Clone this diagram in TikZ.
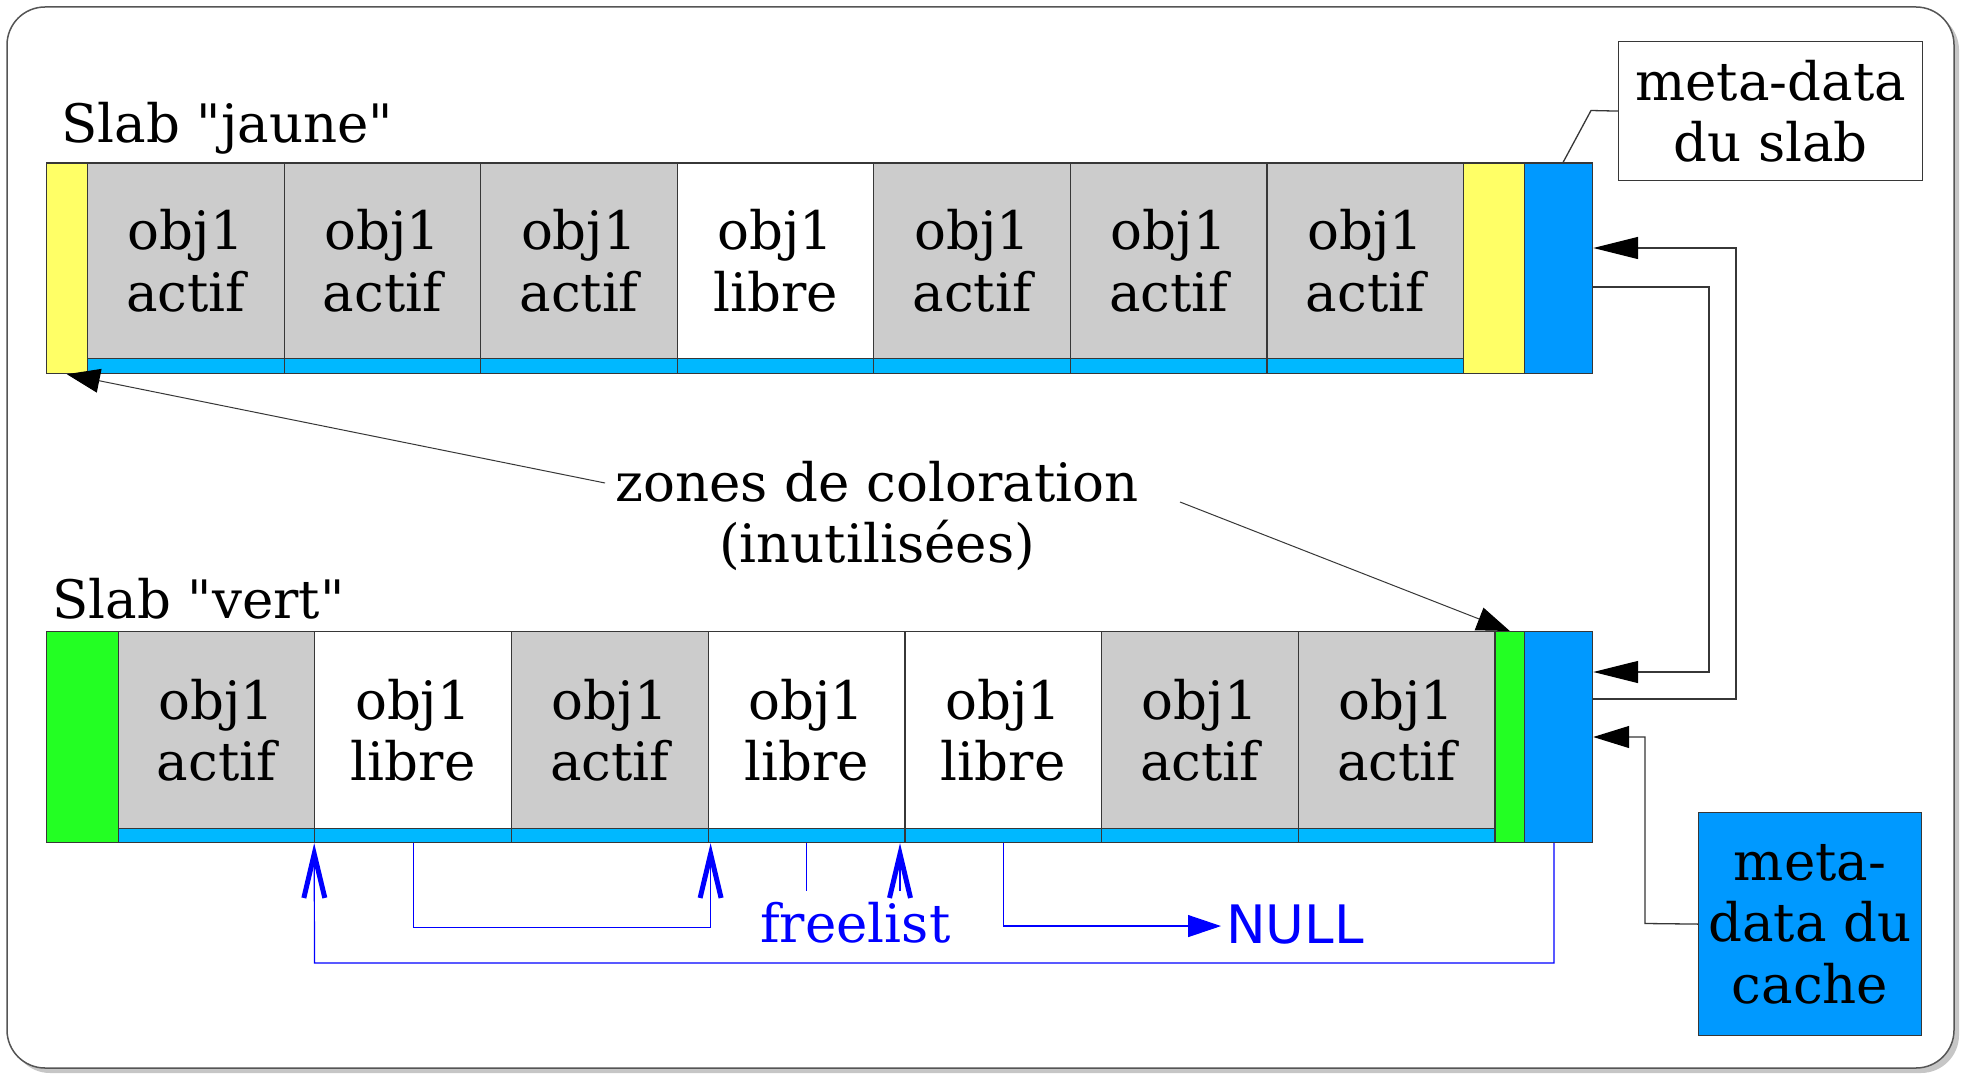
\documentclass[tikz,border=0pt]{standalone}
\usepackage{fontspec}
\setmainfont{DejaVu Serif}[Ligatures=TeXOff]
\newfontfamily\dvsans{DejaVu Sans}
\usetikzlibrary{arrows.meta,calc}
\definecolor{yel}{RGB}{255,255,102}
\definecolor{grc}{RGB}{204,204,204}
\definecolor{stripc}{RGB}{0,184,255}
\definecolor{mblue}{RGB}{0,153,255}
\definecolor{grn}{RGB}{35,255,35}
\definecolor{lnc}{RGB}{55,55,55}
\definecolor{fblue}{RGB}{0,0,255}
\begin{document}
\begin{tikzpicture}[x=1pt,y=-1pt,
  font=\fontsize{53}{61.5}\selectfont,
  plain/.style={draw=lnc, line width=1.2pt, inner sep=0pt, anchor=north west},
  objc/.style={plain, minimum height=#1, align=center},
  strp/.style={plain, fill=stripc},
  con/.style={draw=lnc, line width=1.3pt},
  fcon/.style={draw=fblue, line width=1.2pt},
  bigtri/.style={-{Triangle[length=45pt,width=22pt,color=black]}},
  smtri/.style={-{Triangle[length=33pt,width=24pt,color=black]}},
  barb/.style={-{Straight Barb[length=44pt,width=21pt,line width=5pt]}},
  lbl/.style={inner sep=0pt, anchor=base west}
]
\useasboundingbox (0,0) rectangle (1961,1075);
% frame with shadow
\fill[gray!45, rounded corners=38pt] (12,12) rectangle (1959,1073);
\draw[draw=lnc!85, fill=white, line width=1.5pt, rounded corners=38pt] (7,7) rectangle (1954,1068);

% ---- top slab ----
\node[lbl] (lj) at (61,143) {Slab "jaune"};
\foreach \i/\st/\c in {1/actif/grc,2/actif/grc,3/actif/grc,4/libre/white,5/actif/grc,6/actif/grc,7/actif/grc} {
  \node[objc=195.5pt, minimum width=196.57pt, fill=\c] (t\i) at ({87+(\i-1)*196.57},162.5) {obj1\\\st};
  \node[strp, minimum width=196.57pt, minimum height=15pt] (ts\i) at ({87+(\i-1)*196.57},358) {};
}
\node[plain, fill=yel, minimum width=41.5pt, minimum height=210.5pt] (ty1) at (45.5,162.5) {};
\node[plain, fill=yel, minimum width=61pt, minimum height=210.5pt] (ty2) at (1463,162.5) {};
\node[plain, fill=mblue, minimum width=68pt, minimum height=210.5pt] (tm) at (1524,162.5) {};

% ---- bottom slab ----
\node[lbl] (lv) at (52,618) {Slab "vert"};
\foreach \i/\st/\c in {1/actif/grc,2/libre/white,3/actif/grc,4/libre/white,5/libre/white,6/actif/grc,7/actif/grc} {
  \node[objc=197pt, minimum width=196.7pt, fill=\c] (b\i) at ({117.5+(\i-1)*196.7},631) {obj1\\\st};
  \node[strp, minimum width=196.7pt, minimum height=14pt] (bs\i) at ({117.5+(\i-1)*196.7},828) {};
}
\node[plain, fill=grn, minimum width=72pt, minimum height=211pt] (bg1) at (45.5,631) {};
\node[plain, fill=grn, minimum width=29.6pt, minimum height=211pt] (bg2) at (1494.4,631) {};
\node[plain, fill=mblue, minimum width=68pt, minimum height=211pt] (bm) at (1524,631) {};

% ---- meta boxes ----
\node[plain, fill=white, minimum width=304pt, minimum height=139pt, align=center] (ms) at (1618,41) {meta-data\\du slab};
\node[plain, fill=mblue, minimum width=223pt, minimum height=223pt, align=center] (mc) at (1698,812) {meta-\\data du\\cache};

% ---- zones label ----
\node[inner sep=0pt, align=center] (zn) at (877,516) {zones de coloration\\(inutilisées)};
\coordinate (zl) at (605,483);
\coordinate (zr) at (1180,502);
\draw[con, line width=1pt, smtri] (zl) -- (ty1.south);
\draw[con, line width=1pt, smtri] (zr) -- (bg2.north);

% ---- black connectors ----
\draw[con] (ms.west) -- (1591,110.5) -- (tm.north -| 1563,0);
\draw[con, bigtri] (bm.east |- 0,699) -- (1736,699) -- (1736,248) -- (tm.east |- 0,248);
\draw[con, bigtri] (tm.east |- 0,287) -- (1709,287) -- (1709,672) -- (bm.east |- 0,672);
\draw[con, -{Triangle[length=36pt,width=22pt,color=black]}] (mc.west) -- (1645,923.5) -- (1645,737) -- (bm.east |- 0,737);

% ---- freelist ----
\node[lbl, text=fblue] (fl) at (760,942) {freelist};
\node[lbl, text=fblue, font=\dvsans\fontsize{53}{61.5}\selectfont] (nl) at (1226,943) {NULL};
\draw[fcon, barb] (bm.south -| 1554,0) -- (1554,963) -- (314.5,963) -- (bs2.south west);
\draw[fcon, barb] (bs2.south) -- ++(0,84) -| ($(bs4.south west)+(3,0)$);
\draw[fcon] (bs4.south) -- ++(0,48);
\coordinate (fh) at (900,891);
\draw[fcon, barb] (fh) -- (fh |- bs5.south);
\draw[fcon, -{Triangle[length=33pt,width=22pt]}] (bs5.south) |- ($(nl.west)+(-5,2)$);
\end{tikzpicture}
\end{document}
